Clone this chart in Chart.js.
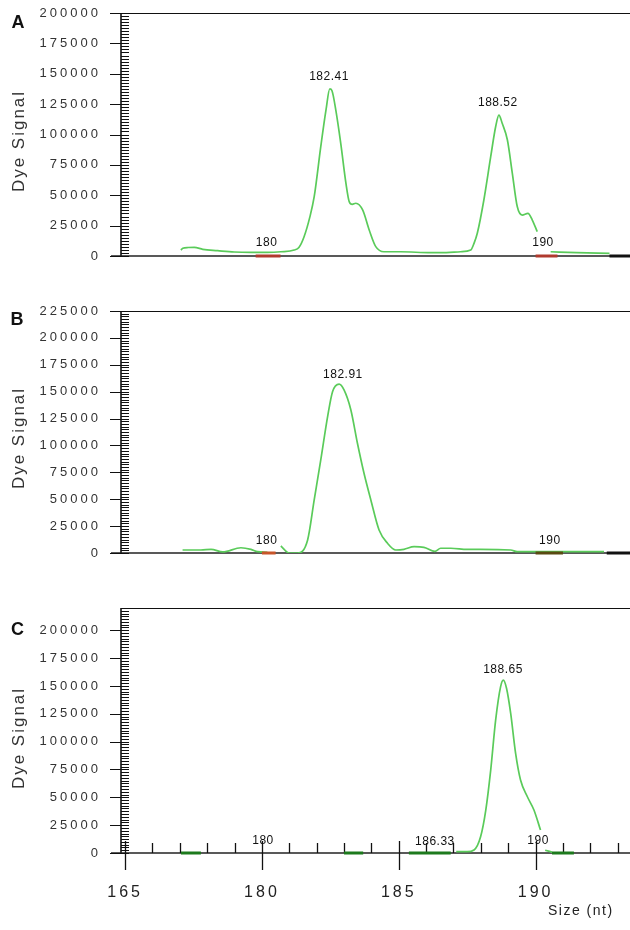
<!DOCTYPE html>
<html><head><meta charset="utf-8">
<script src="https://cdn.jsdelivr.net/npm/chart.js@4.4.1/dist/chart.umd.min.js"></script>
<style>
html,body{margin:0;padding:0;background:#fff;width:630px;height:930px;overflow:hidden;position:relative;}
.box{position:absolute;left:0;width:630px;}
.box canvas{display:block;}
.lbl{position:absolute;font-family:"Liberation Sans",Arial,sans-serif;color:#111;white-space:nowrap;}
.panel{font-weight:bold;font-size:18px;line-height:18px;}
.ytitle{font-size:17px;line-height:17px;letter-spacing:2px;color:#333;transform:translate(-50%,-50%) rotate(-90deg);}
.xtitle{font-size:14px;line-height:14px;letter-spacing:1.5px;color:#222;}
</style></head><body>
<div class="box" style="top:0px;height:270px"><canvas id="cA" width="630" height="270" style="width:630px;height:270px"></canvas></div>
<div class="box" style="top:290px;height:280px"><canvas id="cB" width="630" height="280" style="width:630px;height:280px"></canvas></div>
<div class="box" style="top:590px;height:340px"><canvas id="cC" width="630" height="340" style="width:630px;height:340px"></canvas></div>
<div class="lbl panel" style="left:11.5px;top:13px">A</div>
<div class="lbl panel" style="left:10.5px;top:310px">B</div>
<div class="lbl panel" style="left:11px;top:620px">C</div>
<div class="lbl ytitle" style="left:18px;top:141px">Dye Signal</div>
<div class="lbl ytitle" style="left:18px;top:438px">Dye Signal</div>
<div class="lbl ytitle" style="left:18px;top:738px">Dye Signal</div>
<div class="lbl xtitle" style="left:548px;top:903px">Size (nt)</div>
<script>
// ---------- data ----------
const sizeA = [177.04,177.11,177.3,177.53,177.84,178.38,178.99,179.6,180.2,180.69,181.18,181.35,181.54,181.75,181.91,182.15,182.34,182.48,182.56,182.70,182.88,183.07,183.19,183.30,183.43,183.68,183.92,184.16,184.46,185.07,186.17,186.53,187.26,187.63,187.75,187.87,188.11,188.36,188.54,188.66,188.78,188.97,189.15,189.33,189.51,189.72,189.88,190.06,190.3,190.55,191.5,192.7];
const signalA = [4900,6300,7000,7100,5500,4400,3300,3000,3000,3500,4900,7000,15900,32000,48800,90000,120000,137500,136000,120000,92700,59800,44700,42500,43400,37900,21400,7700,3500,3500,2700,2700,3500,4900,10400,18700,46100,81700,106400,116000,109200,95500,68100,40700,33700,35100,29600,20000,null,3500,2800,2200];

const sizeB = [177.1,177.77,178.14,178.57,179.23,179.6,179.84,180.2,180.4,180.69,181.0,181.3,181.67,181.91,182.15,182.40,182.58,182.82,183.0,183.25,183.49,183.73,183.98,184.28,184.59,184.89,185.19,185.56,185.92,186.32,186.53,186.9,187.5,189.09,189.33,192.5];
const signalB = [2800,2800,3400,1000,4900,3400,1200,700,null,6500,0,0,12100,49300,86500,126800,150000,157000,151600,133000,102000,74100,49300,21400,9000,2800,3400,5900,5300,1500,4400,4400,3400,2800,1200,1200];

const sizeC = [187.1,187.5,187.75,187.99,188.18,188.36,188.54,188.72,188.82,188.94,189.09,189.27,189.45,189.70,189.94,190.18,190.25,190.35,190.6];
const signalC = [1200,1200,2700,14600,38600,74500,119300,149200,155200,147700,125300,89400,65500,50500,38600,20600,null,2500,800];

// size-standard marks on the baseline (start / end in nt)
const markStartA = [179.77,190.0,192.7];
const markEndA   = [180.68,190.8,193.45];
const markStartB = [180.0,190.0,192.6];
const markEndB   = [180.5,191.0,193.45];
const markStartC = [177.04,183.0,185.37,190.6];
const markEndC   = [177.77,183.7,186.9,191.4];

// peak / size labels
const peakTextA = ['182.41','188.52','180','190'];
const peakXA    = [182.45,188.62,180.17,190.27];
const peakYA    = [147500,126000,10900,10900];
const peakTextB = ['182.91','180','190'];
const peakXB    = [182.96,180.17,190.52];
const peakYB    = [165500,11400,11400];
const peakTextC = ['188.65','186.33','180','190'];
const peakXC    = [188.81,186.32,180.04,190.09];
const peakYC    = [164200,10100,10800,10800];

// axes
const yMaxA = 200000, yMaxB = 225000, yMaxC = 220000;
const yLabelTopA = 200000, yLabelTopB = 225000, yLabelTopC = 200000;
const yStep = 25000, yMinorStep = 2500;
const xMin = 174.85, xMax = 193.45;
const xTickValues = [175,180,185,190];
const xTickLabels = ['165','180','185','190'];

// ---------- styles ----------
const curveColor = '#5acb5a';
const markColorsA = ['#b03a2e','#b03a2e','#111111'];
const markColorsB = ['#c8552a','#5a4a12','#111111'];
const markColorsC = ['#1d7a1d','#1d7a1d','#1d7a1d','#1d7a1d'];
const FONT = '"Liberation Sans", Arial, sans-serif';

const framePlugin = {
  id: 'frame',
  beforeDraw(chart){ chart.ctx.letterSpacing = '3px'; },
  beforeDatasetsDraw(chart, args, o){
    const {ctx, chartArea:a, scales:{x, y}} = chart;
    ctx.save();
    ctx.letterSpacing = '0px';
    ctx.strokeStyle = '#111';
    const ln = (x1,y1,x2,y2)=>{ctx.beginPath();ctx.moveTo(x1,y1);ctx.lineTo(x2,y2);ctx.stroke();};
    ctx.lineWidth = 1.2;
    ln(a.left, a.top + 0.5, a.right, a.top + 0.5);
    ctx.lineWidth = 1.6;
    ln(a.left, a.top, a.left, a.bottom);
    const y0 = y.getPixelForValue(0);
    ctx.strokeStyle = '#222';
    ln(a.left - 10, y0, a.right, y0);
    ctx.strokeStyle = '#111';
    ctx.lineWidth = 1;
    for (let v = 0; v <= y.max + 1; v += yMinorStep){
      const py = Math.round(y.getPixelForValue(v)) + 0.5;
      const major = v % yStep === 0;
      ln(major ? a.left - 11 : a.left, py, a.left + 8, py);
    }
    if (o.xTicks){
      ctx.lineWidth = 1.3;
      for (let t = Math.ceil(x.min); t <= x.max; t++){
        const px = Math.round(x.getPixelForValue(t)) + 0.5;
        if (xTickValues.includes(t)) ln(px, y0 - 12, px, y0 + 17);
        else ln(px, y0 - 10, px, y0);
      }
    }
    ctx.restore();
  },
  afterDatasetsDraw(chart){ chart.ctx.letterSpacing = '1px'; },
  afterDraw(chart, args, o){
    const {ctx, scales:{x, y}} = chart;
    ctx.save();
    ctx.letterSpacing = '0.5px';
    ctx.font = '12px ' + FONT;
    ctx.fillStyle = '#111';
    ctx.textAlign = 'center';
    ctx.textBaseline = 'middle';
    o.text.forEach((t,i)=>{
      ctx.fillText(t, x.getPixelForValue(o.xs[i]), y.getPixelForValue(o.ys[i]));
    });
    ctx.restore();
  }
};

function build(id, sizes, signals, mStart, mEnd, mColors, pText, pX, pY, yMax, yLabelTop, padTop, padBottom, showX){
  const datasets = mStart.map((s,i)=>({
    data: [{x:s, y:0},{x:mEnd[i], y:0}],
    borderColor: mColors[i], borderWidth: 3, pointRadius: 0, clip: false, order: 0
  }));
  datasets.push({
    data: sizes.map((s,i)=>({x:s, y:signals[i]})),
    borderColor: curveColor, borderWidth: 1.7, pointRadius: 0,
    cubicInterpolationMode: 'monotone', spanGaps: false, order: 1
  });
  const yTicks = [];
  for (let v = 0; v <= yLabelTop; v += yStep) yTicks.push({value: v});
  return new Chart(document.getElementById(id), {
    type: 'line',
    data: { datasets },
    options: {
      responsive: false, maintainAspectRatio: false, animation: false, devicePixelRatio: 1,
      layout: { padding: { top: padTop, bottom: padBottom, left: 0, right: 0 } },
      plugins: {
        legend: { display: false }, tooltip: { enabled: false },
        frame: { text: pText, xs: pX, ys: pY, xTicks: showX }
      },
      scales: {
        x: {
          type: 'linear', min: xMin, max: xMax, display: showX, z: 1,
          grid: { display: false, drawTicks: false }, border: { display: false },
          afterBuildTicks: s => { s.ticks = xTickValues.map(v=>({value:v})); },
          afterFit: s => { s.height = showX ? 77 : 0; },
          ticks: {
            padding: 30, color: '#222', font: { size: 16, family: FONT },
            autoSkip: false, maxRotation: 0,
            callback: v => { const k = xTickValues.indexOf(v); return k >= 0 ? xTickLabels[k] : ''; }
          }
        },
        y: {
          type: 'linear', min: 0, max: yMax,
          grid: { display: false, drawTicks: true, tickLength: 18 }, border: { display: false },
          afterBuildTicks: s => { s.ticks = yTicks.map(t=>({value:t.value})); },
          afterFit: s => { s.width = 121; },
          ticks: { autoSkip: false, padding: 2, color: '#333', font: { size: 13, family: FONT },
                   callback: v => String(v) }
        }
      }
    },
    plugins: [framePlugin]
  });
}

build('cA', sizeA, signalA, markStartA, markEndA, markColorsA, peakTextA, peakXA, peakYA, yMaxA, yLabelTopA, 13, 14, false);
build('cB', sizeB, signalB, markStartB, markEndB, markColorsB, peakTextB, peakXB, peakYB, yMaxB, yLabelTopB, 21, 17, false);
build('cC', sizeC, signalC, markStartC, markEndC, markColorsC, peakTextC, peakXC, peakYC, yMaxC, yLabelTopC, 18, 0, true);
</script>
</body></html>
